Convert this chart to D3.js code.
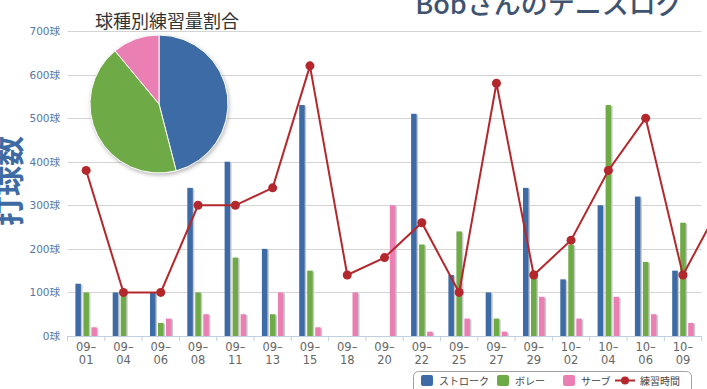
<!DOCTYPE html>
<html>
<head>
<meta charset="utf-8">
<script src="https://cdn.jsdelivr.net/npm/d3@7"></script>
<style>
  body { margin: 0; background: #fff; }
  svg { display: block; font-family: "Noto Sans CJK JP", "DejaVu Sans", sans-serif; }
</style>
</head>
<body>
<svg id="chart"></svg>
<script>
var width = 707, height = 389;

// categories (the last one sits off the right edge of the picture)
var dates = ["09-01", "09-04", "09-06", "09-08", "09-11", "09-13", "09-15", "09-18", "09-20",
             "09-22", "09-25", "09-27", "09-29", "10-02", "10-04", "10-06", "10-09", "10-11"];
var stroke = [120, 100, 100, 340, 400, 200, 530, 0, 0, 510, 140, 100, 340, 130, 300, 320, 150];
var volley = [100, 100, 30, 100, 180, 50, 150, 0, 0, 210, 240, 40, 150, 210, 530, 170, 260];
var serve  = [20, 0, 40, 50, 50, 100, 20, 100, 300, 10, 40, 10, 90, 40, 90, 50, 30];
var practiceTime = [380, 100, 100, 300, 300, 340, 620, 140, 180, 260, 100, 580, 140, 220, 380, 500, 140, 300];
var yTicks = [0, 100, 200, 300, 400, 500, 600, 700];

var pieLabels = ["ストローク", "ボレー", "サーブ"];
var pieValues = [46, 43, 11];

var seriesNames = ["ストローク", "ボレー", "サーブ", "練習時間"];
var colors = ["#3d6ba5", "#6eaa45", "#ea7fb4", "#b3282d"];

var svg = d3.select("#chart")
    .attr("width", width)
    .attr("height", height);

var defs = svg.append("defs");
var f = defs.append("filter").attr("id", "shadow")
    .attr("x", "-20%").attr("y", "-20%").attr("width", "140%").attr("height", "140%");
f.append("feDropShadow").attr("dx", 1).attr("dy", 2).attr("stdDeviation", 2)
    .attr("flood-color", "#000").attr("flood-opacity", 0.3);

var visible = dates.slice(0, stroke.length);
var step = 37.3;
var left = 67.5;
var right = left + visible.length * step;

var x = d3.scaleBand()
    .domain(dates)
    .range([left, left + dates.length * step])
    .padding(0);

var y = d3.scaleLinear()
    .domain([0, 700])
    .range([336, 31]);

var x1 = d3.scaleBand()
    .domain([0, 1, 2])
    .range([-10.75, 10.75])
    .paddingInner(0.3125)
    .paddingOuter(0);

// grid
svg.append("g").selectAll("line")
    .data(yTicks.filter(d => d > 0))
    .enter().append("line")
    .attr("x1", left).attr("x2", right)
    .attr("y1", d => Math.round(y(d)) + 0.5).attr("y2", d => Math.round(y(d)) + 0.5)
    .attr("stroke", "#d4d4d4").attr("stroke-width", 1);

// y axis labels
svg.append("g").selectAll("text")
    .data(yTicks)
    .enter().append("text")
    .attr("x", 60)
    .attr("y", d => y(d) + 4)
    .attr("text-anchor", "end")
    .style("font-family", "'DejaVu Sans', 'Noto Sans CJK JP', sans-serif")
    .style("font-size", "10.5px")
    .style("fill", "#5677a3")
    .text(d => d + "球");

// y axis title
svg.append("text")
    .attr("transform", "translate(20,181) rotate(-90)")
    .attr("text-anchor", "middle")
    .style("font-size", "30px")
    .style("font-weight", "bold")
    .style("fill", "#3e6ba3")
    .text("打球数");

// x axis
var xAxis = svg.append("g");
xAxis.append("line")
    .attr("x1", left).attr("x2", right)
    .attr("y1", 336.5).attr("y2", 336.5)
    .attr("stroke", "#c0d0e0");
xAxis.selectAll(".tk")
    .data(d3.range(visible.length + 1))
    .enter().append("line")
    .attr("x1", i => left + i * step).attr("x2", i => left + i * step)
    .attr("y1", 336).attr("y2", 341)
    .attr("stroke", "#c0d0e0");
var lbl = xAxis.selectAll(".lbl")
    .data(visible)
    .enter().append("text")
    .attr("text-anchor", "middle")
    .style("font-family", "'DejaVu Sans', sans-serif")
    .style("font-size", "11.5px")
    .style("fill", "#666");
lbl.append("tspan")
    .attr("x", d => x(d) + x.bandwidth() / 2)
    .attr("y", 351)
    .text(d => d.split("-")[0] + "–");
lbl.append("tspan")
    .attr("x", d => x(d) + x.bandwidth() / 2)
    .attr("y", 364)
    .text(d => d.split("-")[1]);

// bars
[stroke, volley, serve].forEach(function(vals, s) {
    var g = svg.append("g");
    var data = vals.map((v, i) => ({ d: dates[i], v: v })).filter(o => o.v > 0);
    g.selectAll(".sh")
        .data(data)
        .enter().append("rect")
        .attr("x", o => x(o.d) + x.bandwidth() / 2 + x1(s) + 1.5)
        .attr("y", o => y(o.v) + 1)
        .attr("width", x1.bandwidth())
        .attr("height", o => y(0) - y(o.v) - 1)
        .attr("fill", "#c8c8cc");
    g.selectAll(".bar")
        .data(data)
        .enter().append("rect")
        .attr("x", o => x(o.d) + x.bandwidth() / 2 + x1(s))
        .attr("y", o => y(o.v))
        .attr("width", x1.bandwidth())
        .attr("height", o => y(0) - y(o.v))
        .attr("fill", colors[s]);
});

// practice time line
var line = d3.line()
    .x((v, i) => x(dates[i]) + x.bandwidth() / 2)
    .y(v => y(v));

svg.append("path")
    .datum(practiceTime)
    .attr("d", line)
    .attr("fill", "none")
    .attr("stroke", colors[3])
    .attr("stroke-width", 2);

svg.append("g").selectAll("circle")
    .data(practiceTime)
    .enter().append("circle")
    .attr("cx", (v, i) => x(dates[i]) + x.bandwidth() / 2)
    .attr("cy", v => y(v))
    .attr("r", 4.5)
    .attr("fill", colors[3]);

// pie
var pie = d3.pie().sort(null)(pieValues);
var arc = d3.arc().innerRadius(0).outerRadius(69);
var pg = svg.append("g")
    .attr("transform", "translate(159,104)");
pg.append("circle").attr("r", 69).attr("fill", "#fff").attr("filter", "url(#shadow)");
pg.selectAll("path")
    .data(pie)
    .enter().append("path")
    .attr("d", arc)
    .attr("fill", (d, i) => colors[i])
    .attr("stroke", "#fff")
    .attr("stroke-width", 1);

svg.append("text")
    .attr("x", 167)
    .attr("y", 28)
    .attr("text-anchor", "middle")
    .style("font-size", "18px")
    .style("fill", "#333")
    .text("球種別練習量割合");

// main title (cut at the top)
svg.append("text")
    .attr("x", 549)
    .attr("y", 14)
    .attr("text-anchor", "middle")
    .style("font-size", "27px")
    .style("font-weight", "500")
    .style("fill", "#3f5470")
    .text("Bobさんのテニスログ");

// legend
var lg = svg.append("g");
lg.append("rect")
    .attr("x", 413.5).attr("y", 371.5)
    .attr("width", 278).attr("height", 30)
    .attr("rx", 5)
    .attr("fill", "#fff")
    .attr("stroke", "#a0a0a0");

var legendX = [421, 497, 563, 615];
var items = lg.selectAll(".item")
    .data(seriesNames)
    .enter().append("g")
    .attr("transform", (d, i) => "translate(" + legendX[i] + ",375)");

items.filter((d, i) => i < 3).append("rect")
    .attr("width", 12).attr("height", 11)
    .attr("rx", 2)
    .attr("fill", (d, i) => colors[i]);

var lineItem = items.filter((d, i) => i === 3);
lineItem.append("line")
    .attr("x1", 0).attr("x2", 20)
    .attr("y1", 5.5).attr("y2", 5.5)
    .attr("stroke", colors[3]).attr("stroke-width", 2);
lineItem.append("circle")
    .attr("cx", 10).attr("cy", 5.5).attr("r", 4)
    .attr("fill", colors[3]);

items.append("text")
    .attr("x", (d, i) => i === 3 ? 25 : 18)
    .attr("y", 10)
    .style("font-size", "10px")
    .style("fill", "#444")
    .text(d => d);
</script>
</body>
</html>
